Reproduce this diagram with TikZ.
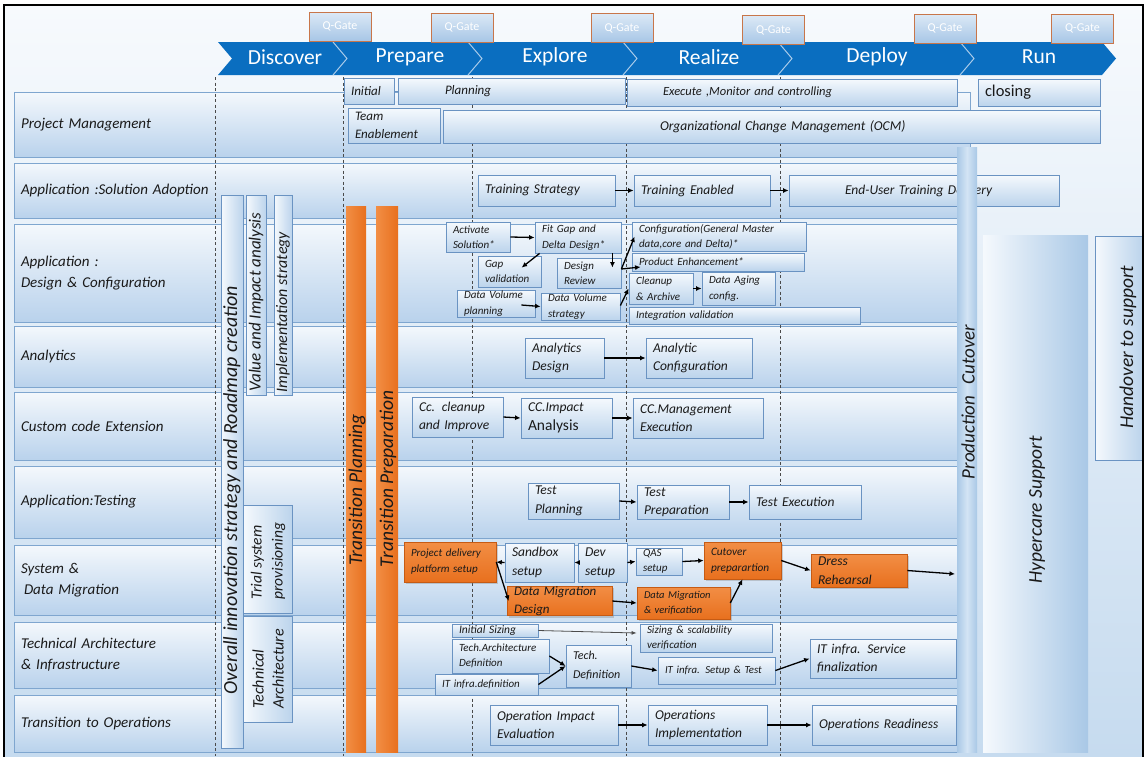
\documentclass[tikz,border=0pt]{standalone}
\usepackage{fontspec}
\setmainfont{Carlito}
\usetikzlibrary{arrows.meta,shadows}
\definecolor{txt}{HTML}{1A1A1A}
\definecolor{rowline}{HTML}{7FA6CF}
\definecolor{rowtop}{HTML}{F4F8FC}
\definecolor{rowbot}{HTML}{B9D2EC}
\definecolor{boxline}{HTML}{6A93C2}
\definecolor{boxtop}{HTML}{F5F9FD}
\definecolor{boxbot}{HTML}{BCD4EC}
\definecolor{phaseblue}{HTML}{0A6EC0}
\definecolor{sepcol}{HTML}{A9CBEA}
\definecolor{qline}{HTML}{C8764A}
\definecolor{qtop}{HTML}{DCE9F6}
\definecolor{qbot}{HTML}{A7C6E6}
\definecolor{orA}{HTML}{F28E45}
\definecolor{orB}{HTML}{E8701E}
\definecolor{orline}{HTML}{C65B14}
\definecolor{bgtop}{HTML}{F7FAFD}
\definecolor{bgbot}{HTML}{C6DBEF}
\definecolor{dashcol}{HTML}{4A4A4A}
\definecolor{pcA}{HTML}{D3E4F4}
\definecolor{pcB}{HTML}{A9C8E6}
\newcommand\myfs[2]{\fontsize{#1}{#2}\selectfont}
\newcommand\mybox[7][]{%
  \pgfmathsetmacro\bxw{#5-#3}%
  \pgfmathsetmacro\bxh{#6-#4}%
  \pgfmathsetmacro\bxt{#5-#3-14}%
  \node[box,#1,minimum width=\bxw pt,minimum height=\bxh pt,text width=\bxt pt] (#2) at ({(#3+#5)/2},{(#4+#6)/2}) {#7};}
\tikzset{
  box/.style={draw=boxline, line width=0.8pt, top color=boxtop, bottom color=boxbot,
    inner xsep=7pt, inner ysep=0pt, align=left, text=txt, font=\itshape\myfs{13.5}{18.5}},
  rowbox/.style={draw=rowline, line width=0.9pt, top color=rowtop, bottom color=rowbot,
    font=\itshape\myfs{15}{21}},
  sb/.style={font=\itshape\myfs{11}{15.5}},
  ob/.style={draw=orline, line width=0.6pt, top color=orA, bottom color=orB,
    drop shadow={opacity=0.35, shadow xshift=2pt, shadow yshift=-2pt}},
  qgate/.style={draw=qline, line width=1pt, top color=qtop, bottom color=qbot, text=white,
    font=\myfs{12}{14}, minimum width=62pt, minimum height=29pt, inner sep=0pt},
  phase/.style={text=white, font=\myfs{21.5}{24}},
  sepline/.style={draw=sepcol, line width=1pt},
  phline/.style={draw=dashcol, line width=0.9pt, dash pattern=on 3pt off 2.5pt},
  arr/.style={-{Latex[length=5.5pt,width=5pt]}, line width=1.3pt, draw=black},
  thinarr/.style={-{Latex[length=5pt,width=4pt]}, line width=0.8pt, draw=black!70},
  vbarst/.style={draw=boxline, line width=0.8pt, left color=boxtop, right color=boxbot},
  orbar/.style={left color=orA, right color=orB},
  vt/.style={rotate=90, text=txt, inner sep=0pt, align=left},
}
\begin{document}
\begin{tikzpicture}[x=1pt,y=-1pt]
\useasboundingbox (0,0) rectangle (1145,756);
\fill[white] (0,0) rectangle (1145,756);
\shade[top color=bgtop, bottom color=bgbot] (5,6) rectangle (1143,756);
% phase chevron
\fill[phaseblue] (218,42) -- (1102,42) -- (1116,58.5) -- (1102,75) -- (218,75) -- (232,58.5) -- cycle;
\foreach \sx in {333,468,623,778,960}{\draw[sepline] (\sx,42) -- (\sx+14,58.5) -- (\sx,75);}
\node[phase] (discover) at (285,57) {Discover};
\node[phase] (prepare) at (410,57) {Prepare};
\node[phase] (explore) at (555,57) {Explore};
\node[phase] (realize) at (709,57) {Realize};
\node[phase] (deploy) at (877,57) {Deploy};
\node[phase] (run) at (1039,57) {Run};
% Q-gates
\node[qgate] (q1) at (340,26.5) {Q-Gate};
\node[qgate] (q2) at (462,27.5) {Q-Gate};
\node[qgate] (q3) at (622,28) {Q-Gate};
\node[qgate] (q4) at (773.5,30) {Q-Gate};
\node[qgate] (q5) at (945,28.5) {Q-Gate};
\node[qgate] (q6) at (1082.5,28.5) {Q-Gate};
% rows
\mybox[rowbox]{r1}{14}{92}{970}{157}{Project Management}
\mybox[rowbox]{r2}{14}{163}{960}{218}{Application :Solution Adoption}
\mybox[rowbox]{r3}{14}{224}{960}{322}{Application :\\Design \& Configuration}
\mybox[rowbox]{r4}{14}{326}{960}{387}{Analytics}
\mybox[rowbox]{r5}{14}{392}{960}{460}{Custom code Extension}
\mybox[rowbox]{r6}{14}{466}{960}{538}{Application:Testing}
\mybox[rowbox]{r7}{14}{545}{960}{615}{System \&\\\hspace*{3pt}Data Migration}
\mybox[rowbox]{r8}{14}{622}{960}{688}{Technical Architecture\\\& Infrastructure}
\mybox[rowbox]{r9}{14}{695}{960}{752}{Transition to Operations}
% phase dashed lines
\foreach \dx in {215,343,472,626,780}{\draw[phline] (\dx,77) -- (\dx,756);}
% project management
\mybox[font=\itshape\myfs{13}{18}]{init}{344}{78}{394}{104}{Initial}
\mybox[font=\itshape\myfs{13}{18}]{plan}{398}{78}{625}{104}{\hspace*{40pt}Planning}
\draw[boxline, line width=0.8pt] (init) -- (plan);
\mybox[font=\itshape\myfs{12.5}{18}]{exe}{627}{79}{957}{106}{\hspace*{29pt}Execute ,Monitor and controlling}
\mybox[font=\myfs{16.5}{18}]{clos}{978}{79}{1100}{106}{closing}
\mybox[font=\itshape\myfs{13}{18}]{team}{348}{108}{440}{143}{Team\\Enablement}
\mybox[font=\itshape\myfs{13.5}{18}]{ocm}{443}{110}{1100}{143}{\hspace*{210pt}Organizational Change Management (OCM)}
% solution adoption
\mybox{ts}{478}{175}{615}{206}{Training Strategy}
\mybox{te}{634}{175}{770}{206}{Training Enabled}
\mybox{eu}{789}{175}{1059}{206}{\hspace*{49pt}End-User Training Delivery}
% design & configuration
\mybox[sb]{act}{446}{222}{510}{252}{Activate\\Solution*}
\mybox[sb]{fit}{535}{222}{621}{253}{Fit Gap and\\Delta Design*}
\mybox[sb]{gapv}{478}{256}{541}{287}{Gap\\validation}
\mybox[sb]{rev}{557}{258}{621}{288}{Design\\Review}
\mybox[sb]{dvp}{457}{290}{535}{317}{Data Volume\\planning}
\mybox[sb]{dvs}{541}{293}{620}{320}{Data Volume\\strategy}
\mybox[sb]{conf}{632}{222}{806}{251}{Configuration(General Master\\data,core and Delta)*}
\mybox[sb]{prod}{632}{253}{804}{271}{Product Enhancement*}
\mybox[sb]{clean}{629}{273}{693}{304}{Cleanup\\\& Archive}
\mybox[sb]{aging}{702}{272}{775}{305}{Data Aging\\config.}
\mybox[sb]{integ}{629}{307}{860}{324}{Integration validation}
% analytics
\mybox{ad}{525}{338}{604}{378}{Analytics\\Design}
\mybox{ac}{646}{338}{752}{378}{Analytic\\Configuration}
% custom code
\mybox{cc1}{412}{397}{503}{437}{Cc. cleanup\\and Improve}
\mybox{cc2}{521}{398}{612}{438}{CC.Impact\\{\upshape\myfs{15.5}{18}Analysis}}
\mybox{cc3}{633}{398}{763}{438}{CC.Management\\Execution}
% testing
\mybox{tp}{528}{483}{619}{519}{Test\\Planning}
\mybox{tprep}{637}{485}{729}{519}{Test\\Preparation}
\mybox{tex}{749}{485}{861}{519}{Test Execution}
% system & data migration
\mybox[ob,font=\itshape\myfs{11}{16}]{pdp}{404}{542}{496}{582}{Project delivery\\platform setup}
\mybox{sand}{505}{543}{574}{582}{Sandbox\\setup}
\mybox{dev}{578}{543}{627}{582}{Dev\\setup}
\mybox[font=\itshape\myfs{11}{15}]{qas}{636}{548}{682}{575}{QAS\\setup}
\mybox[ob,font=\itshape\myfs{11.3}{16}]{cut}{704}{542}{781}{579}{Cutover\\preparartion}
\mybox[ob]{dress}{811}{554}{907}{587}{Dress\\Rehearsal}
\mybox[ob,font=\itshape\myfs{13}{18}]{dmd}{507}{587}{612}{615}{Data Migration\\Design}
\mybox[ob,font=\itshape\myfs{10.5}{15.5}]{dmv}{637}{587}{730}{619}{Data Migration\\\& verification}
\coordinate (cutin) at (955,574);
% technical architecture
\mybox[font=\itshape\myfs{11.5}{14}]{isz}{452}{624}{538}{637}{Initial Sizing}
\mybox[sb]{tad}{452}{639}{549}{673}{Tech.Architecture\\Definition}
\mybox[sb]{itd}{435}{674}{538}{695}{IT infra.definition}
\mybox[font=\itshape\myfs{12}{19}]{tdef}{566}{645}{631}{687}{Tech.\\Definition}
\mybox[sb]{ssv}{640}{624}{772}{652}{Sizing \& scalability\\verification}
\mybox[font=\itshape\myfs{10.8}{15}]{its}{658}{657}{775}{684}{IT infra. Setup \& Test}
\mybox{isf}{810}{639}{956}{678}{IT infra. Service\\finalization}
% transition to operations
\mybox{oie}{490}{705}{618}{745}{Operation Impact\\Evaluation}
\mybox{oim}{648}{705}{767}{745}{Operations\\Implementation}
\mybox{ord}{812}{705}{956}{745}{Operations Readiness}
% discover bars
\path[vbarst] (221,195) rectangle (243,748);
\node[vt, font=\itshape\myfs{20}{22}] (overall) at (232,490) {Overall innovation strategy and Roadmap creation};
\path[vbarst] (246,195) rectangle (266,395);
\node[vt, font=\itshape\myfs{17}{20}] (value) at (256,302) {Value and Impact analysis};
\path[vbarst] (274,195) rectangle (292,395);
\node[vt, font=\itshape\myfs{16}{20}] (impl) at (283,312) {Implementation strategy};
\path[vbarst] (243,505) rectangle (292,613);
\node[vt, font=\itshape\myfs{15.5}{21}] (trial) at (268,561) {Trial system\\provisioning};
\path[vbarst] (243,616) rectangle (292,722);
\node[vt, font=\itshape\myfs{16}{20}] (techarch) at (268,669) {Technical\\Architecture};
% transition bars
\path[orbar] (346,206) rectangle (366,752);
\node[vt, font=\itshape\myfs{19.5}{22}] (tplan) at (357,490) {Transition Planning};
\path[orbar] (376,206) rectangle (398,752);
\node[vt, font=\itshape\myfs{19.5}{22}] (tprepb) at (388,479) {Transition Preparation};
% production cutover, hypercare, handover
\path[left color=pcB, right color=pcB, middle color=pcA] (957,147) rectangle (977,752);
\node[vt, font=\itshape\myfs{19}{22}] (pcut) at (968,402) {Production\hspace{0.6em}Cutover};
\path[left color=boxtop, right color=pcB] (983,235) rectangle (1088,752);
\node[vt, font=\itshape\myfs{19.5}{22}] (hyper) at (1037,510) {Hypercare Support};
\path[vbarst] (1095,236) rectangle (1142,460);
\node[vt, font=\itshape\myfs{19.5}{22}] (handover) at (1128,347) {Handover to support};
% arrows
\draw[arr] (ts.east) -- (te.west);
\draw[arr] (te.east) -- (eu.west);
\draw[arr] (act.east) -- (fit.west);
\draw[arr] ([xshift=5pt]fit.south west) -- ([xshift=44pt,yshift=-12pt]gapv.north west);
\draw[arr] ([xshift=-9pt]fit.south east) -- ([xshift=-9pt,yshift=-10pt]rev.north east);
\draw[arr] ([yshift=4pt]rev.east) -- ([xshift=3pt]conf.west);
\draw[arr] ([yshift=4pt]rev.east) -- ([xshift=9pt,yshift=-5pt]prod.west);
\draw[arr] ([xshift=-14pt,yshift=-1.5pt]dvp.east) -- (dvs.west);
\draw[arr] ([yshift=1pt]dvs.east) -- (clean.west);
\draw[arr] (clean.east) -- (aging.west);
\draw[arr] (ad.east) -- (ac.west);
\draw[arr] (cc1.east) -- (cc2.west);
\draw[arr] (cc2.east) -- (cc3.west);
\draw[arr] (tp.east) -- (tprep.west);
\draw[arr] (tprep.east) -- (tex.west);
\draw[arr] (sand.west) -- (pdp.east);
\draw[arr] (pdp.east) -- ([xshift=2pt]dmd.west);
\draw[arr] (dev.west) -- (sand.east);
\draw[arr] (dev.east) -- (qas.west);
\draw[arr] (qas.east) -- (cut.west);
\draw[arr] (dmd.east) -- (dmv.west);
\draw[arr] (dmv.east) -- (cut.south);
\draw[arr] (cut.east) -- (dress.west);
\draw[arr] (dress.east) -- (cutin);
\draw[thinarr] (isz.east) -- ([xshift=-3pt,yshift=5pt]ssv.west);
\draw[arr] (tad.east) -- (tdef.west);
\draw[arr] (itd.east) -- (tdef.west);
\draw[arr] (tdef.east) -- (its.west);
\draw[arr] (its.east) -- (isf.west);
\draw[arr] (oie.east) -- (oim.west);
\draw[arr] (oim.east) -- (ord.west);
% frame
\draw[line width=2pt] (4,760) -- (4,5) -- (1143,5) -- (1143,760);
\end{tikzpicture}
\end{document}
